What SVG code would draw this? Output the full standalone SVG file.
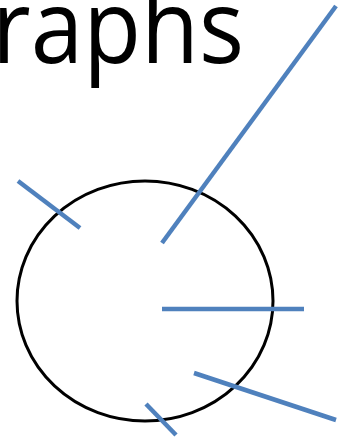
<svg xmlns="http://www.w3.org/2000/svg" width="352" height="444" viewBox="0 0 352 444">
<style>
.t{font-family:"Open Sans","Liberation Sans",sans-serif;font-size:103px;fill:#000}
.e{stroke:#4F81BD;stroke-width:4.5;fill:none}
.n{fill:none;stroke:#000;stroke-width:3}
</style>
<rect width="352" height="444" fill="#fff"/>
<text class="t" x="-8" y="63" textLength="252" lengthAdjust="spacingAndGlyphs">raphs</text>
<g id="node-circle"><ellipse class="n" cx="145" cy="301" rx="128" ry="120"/></g>
<g id="connectors">
<line class="e" x1="18" y1="181" x2="80" y2="228"/>
<line class="e" x1="336" y1="6" x2="162" y2="243"/>
<line class="e" x1="162" y1="309" x2="304" y2="309"/>
<line class="e" x1="194" y1="373" x2="336" y2="420"/>
<line class="e" x1="146" y1="404" x2="176" y2="435"/>
</g>
</svg>
